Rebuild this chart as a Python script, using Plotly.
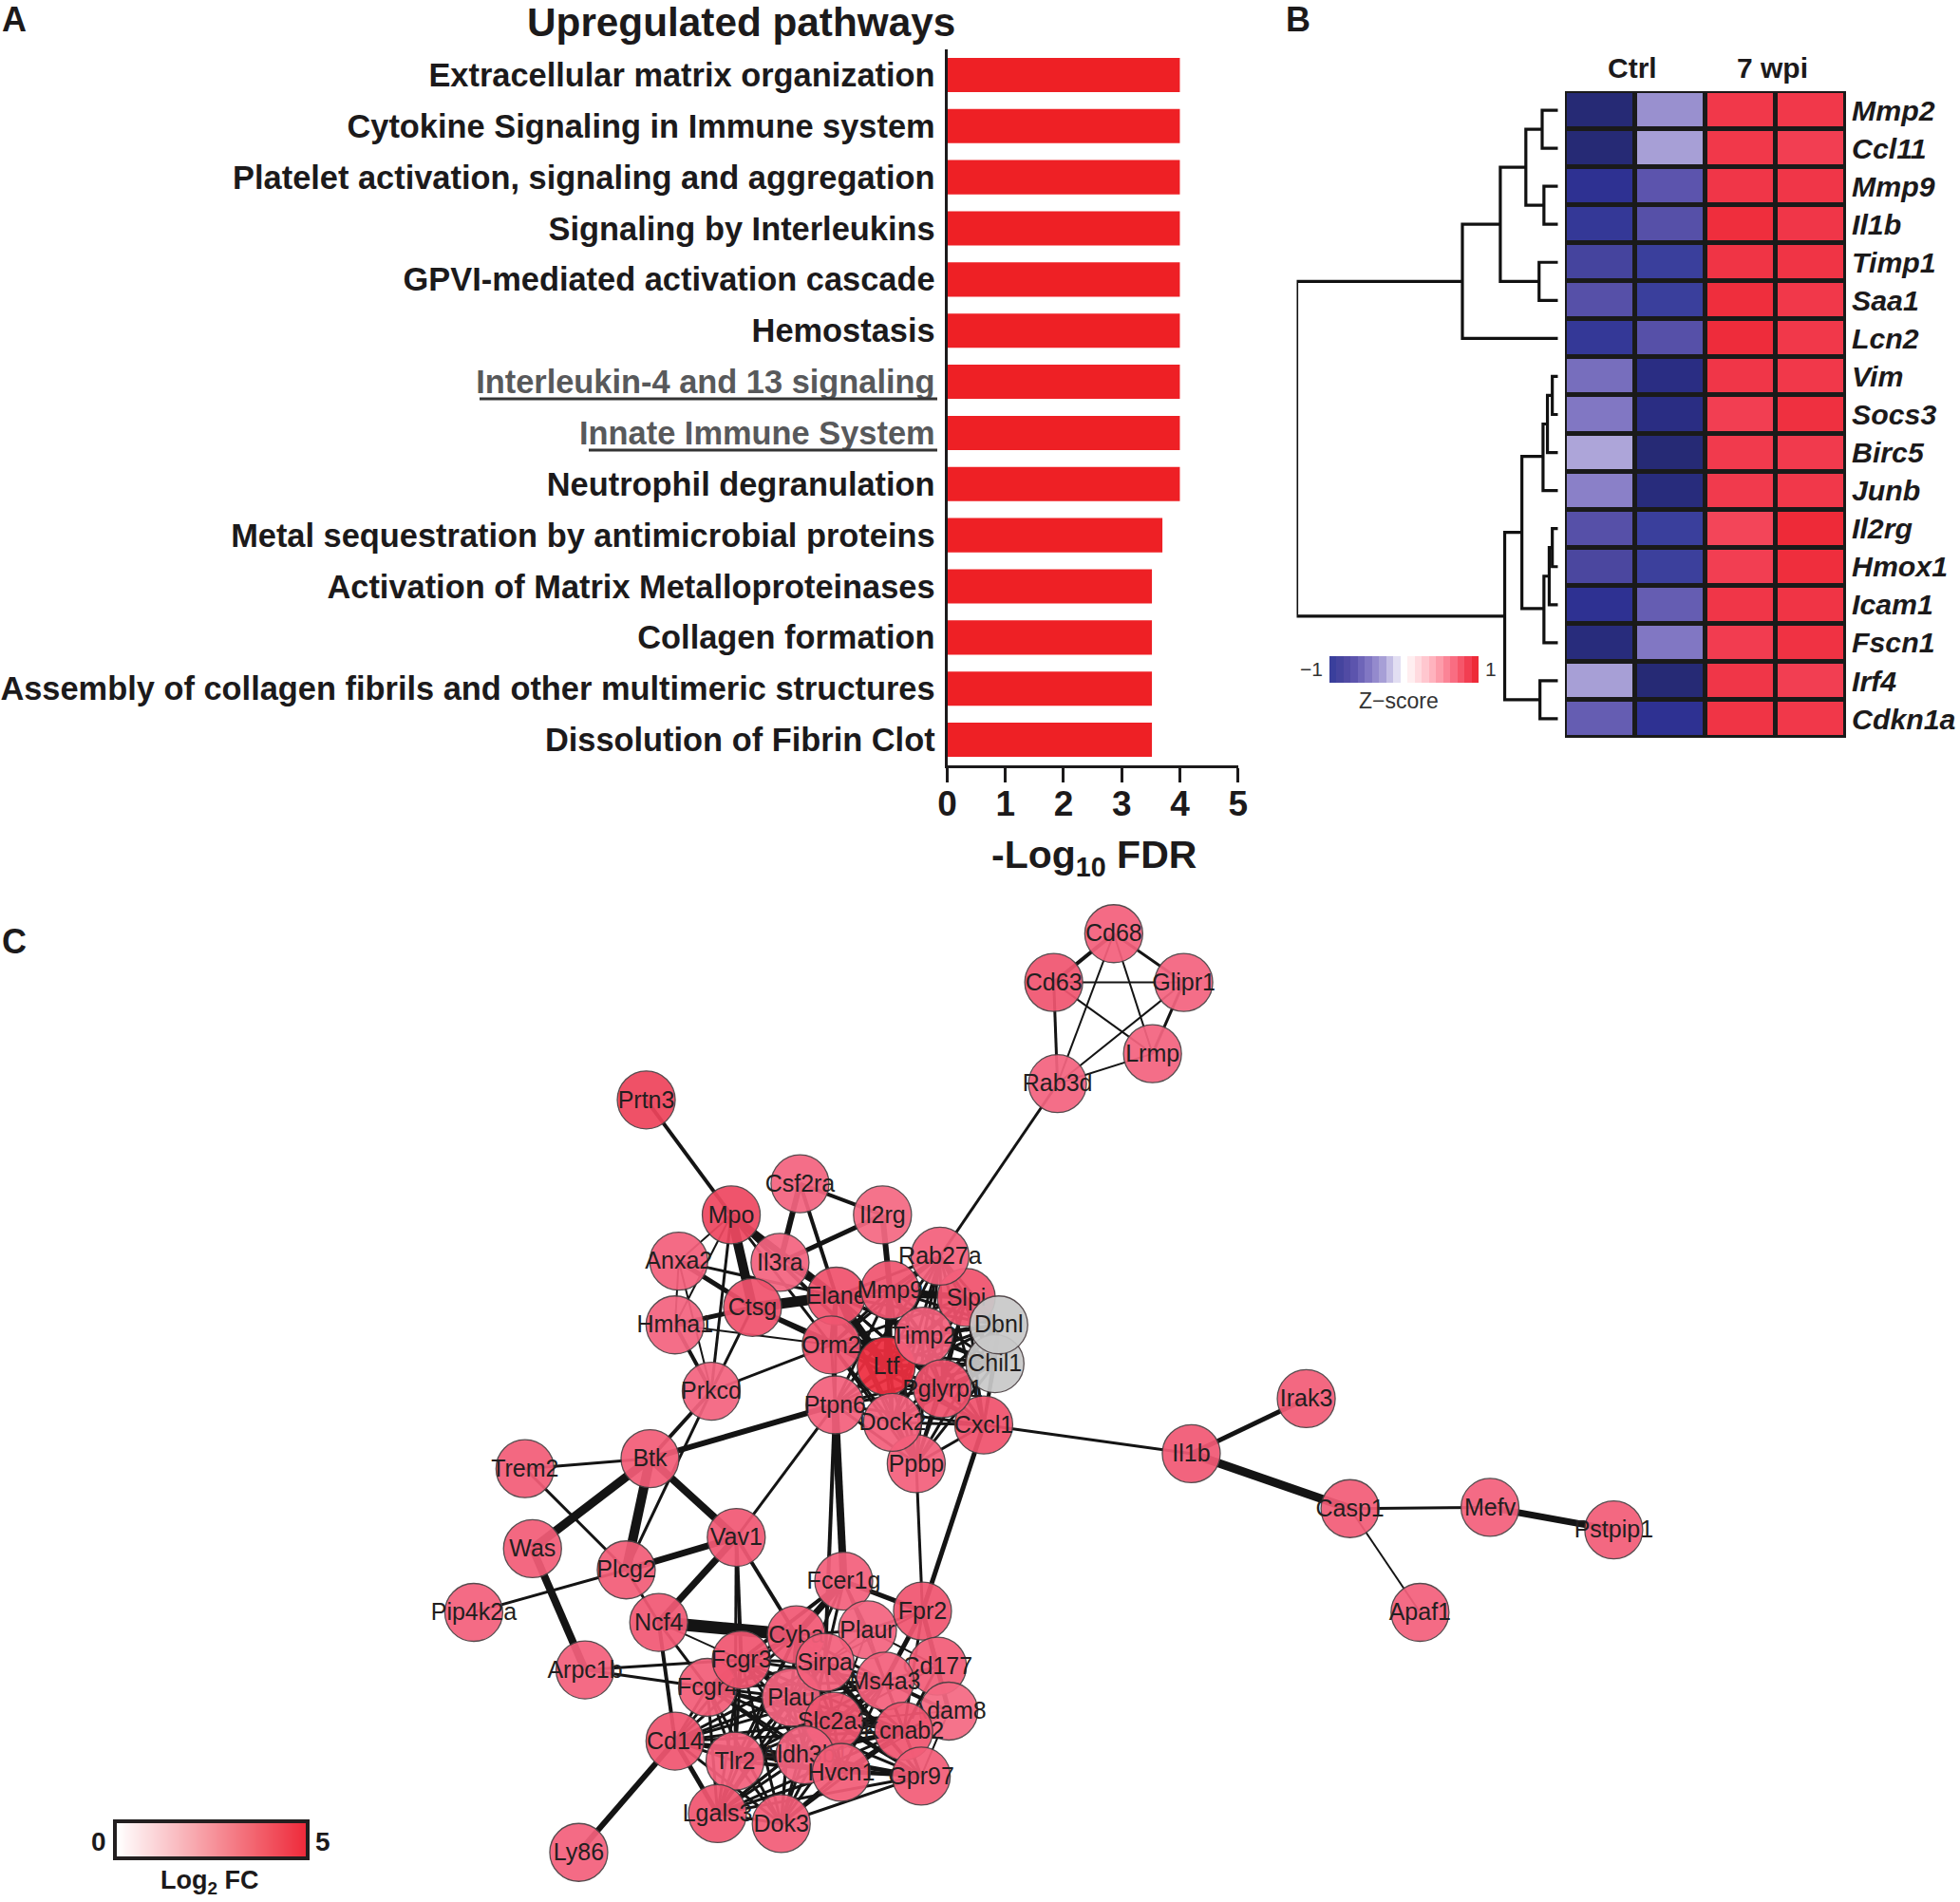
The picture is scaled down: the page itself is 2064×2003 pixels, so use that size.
import itertools
import plotly.graph_objects as go

W, H = 2064, 2003
FONT = "Liberation Sans"
INK = "#1c1a1b"

# ---------- Panel A ----------
pathways = ["Extracellular matrix organization", "Cytokine Signaling in Immune system",
            "Platelet activation, signaling and aggregation", "Signaling by Interleukins",
            "GPVI-mediated activation cascade", "Hemostasis", "Interleukin-4 and 13 signaling",
            "Innate Immune System", "Neutrophil degranulation",
            "Metal sequestration by antimicrobial proteins",
            "Activation of Matrix Metalloproteinases", "Collagen formation",
            "Assembly of collagen fibrils and other multimeric structures",
            "Dissolution of Fibrin Clot"]
fdr_values = [4, 4, 4, 4, 4, 4, 4, 4, 4, 3.7, 3.52, 3.52, 3.52, 3.52]
grey_pathways = ["Interleukin-4 and 13 signaling", "Innate Immune System"]
fdr_ticks = [0, 1, 2, 3, 4, 5]

# ---------- Panel B ----------
genes = ["Mmp2", "Ccl11", "Mmp9", "Il1b", "Timp1", "Saa1", "Lcn2", "Vim", "Socs3", "Birc5",
         "Junb", "Il2rg", "Hmox1", "Icam1", "Fscn1", "Irf4", "Cdkn1a"]
ctrl_1 = [-1.3, -1.3, -1.1, -1.05, -0.9, -0.75, -1.05, -0.55, -0.5, -0.28, -0.45, -0.75, -0.85, -1.1, -1.25, -0.3, -0.65]
ctrl_2 = [-0.37, -0.3, -0.7, -0.75, -1.0, -1.0, -0.75, -1.2, -1.2, -1.3, -1.25, -1.0, -0.98, -0.65, -0.5, -1.3, -1.1]
wpi_1 = [0.93, 0.93, 0.94, 0.98, 0.95, 0.98, 0.99, 0.94, 0.9, 0.92, 0.92, 0.87, 0.9, 0.94, 0.91, 0.94, 0.95]
wpi_2 = [0.93, 0.9, 0.94, 0.94, 0.95, 0.93, 0.93, 0.93, 0.97, 0.92, 0.93, 1.0, 0.98, 0.95, 0.96, 0.9, 0.93]
z_colorscale = [[0, "#262a75"], [.087, "#2e3192"], [.13, "#3a3f9c"], [.196, "#4b479f"],
                [.261, "#5c54ad"], [.37, "#8a80c8"], [.435, "#a79fd6"], [.522, "#e2def2"],
                [.565, "#ffffff"], [.609, "#ffeef0"], [.739, "#ffb3be"], [.87, "#f96d82"],
                [.957, "#f23e52"], [1, "#ee2a38"]]
z_legend_levels = [-1, -.9, -.8, -.7, -.6, -.5, -.4, -.3, -.2, -.1, 0, .1, .2, .3, .4, .5, .6, .7, .8, .9, 1]
# dendrogram merges: (row a, height a, row b, height b, merge height)
dendro = [(0, 0, 1, 0, 36), (2, 0, 3, 0, 32), (0.5, 36, 2.5, 32, 73), (4, 0, 5, 0, 43),
          (1.5, 73, 4.5, 43, 131), (3, 131, 6, 0, 217), (7, 0, 8, 0, 13), (7.5, 13, 9, 0, 24),
          (8.25, 24, 10, 0, 34), (11, 0, 12, 0, 13), (11.5, 13, 13, 0, 20), (12.25, 20, 14, 0, 32),
          (9.1, 34, 13.1, 32, 82), (15, 0, 16, 0, 41), (11.1, 82, 15.5, 41, 121),
          (4.5, 217, 13.3, 121, 593)]

# ---------- Panel C ----------
node_names = ["Cd68", "Cd63", "Glipr1", "Lrmp", "Rab3d", "Prtn3", "Csf2ra", "Il2rg", "Mpo", "Anxa2",
              "Il3ra", "Hmha1", "Ctsg", "Prkcd", "Elane", "Slpi", "Mmp9", "Rab27a", "Chil1", "Dbnl",
              "Ltf", "Orm2", "Timp2", "Ppbp", "Cxcl1", "Pglyrp1", "Dock2", "Ptpn6", "Btk", "Trem2",
              "Was", "Pip4k2a", "Plcg2", "Vav1", "Ncf4", "Arpc1b", "Fcer1g", "Plaur", "Cyba", "Fpr2",
              "Cd177", "Fcgr4", "Fcgr3", "Plau", "Sirpa", "Adam8", "Ms4a3", "Kcnab2", "Slc2a3", "Aldh3b1",
              "Gpr97", "Hvcn1", "Cd14", "Tlr2", "Lgals3", "Dok3", "Ly86", "Il1b", "Irak3", "Casp1",
              "Mefv", "Pstpip1", "Apaf1"]
node_x = [891, 843, 947, 922, 846, 517, 640, 706, 585, 543, 624, 540, 602, 569, 669, 773, 712, 752, 796, 799,
          709, 665, 739, 733, 787, 754, 714, 668, 520, 420, 426, 379, 501, 589, 527, 468, 675, 694, 637, 738,
          750, 566, 593, 633, 660, 759, 708, 723, 667, 644, 737, 673, 540, 588, 574, 625, 463, 953, 1045, 1080,
          1192, 1291, 1136]
node_y = [747, 786, 786, 843, 867, 880, 947, 972, 972, 1009, 1010, 1060, 1046, 1113, 1037, 1038, 1032, 1005, 1091, 1060,
          1093, 1076, 1069, 1171, 1140, 1111, 1138, 1124, 1167, 1175, 1239, 1290, 1256, 1230, 1298, 1336, 1265, 1304, 1308, 1289,
          1333, 1350, 1328, 1358, 1330, 1369, 1345, 1385, 1377, 1404, 1421, 1418, 1393, 1409, 1451, 1459, 1482, 1163, 1119, 1207,
          1206, 1224, 1290]
node_fc = [3.6, 3.9, 3.5, 3.5, 3.5, 4.4, 3.5, 3.4, 4.3, 3.6, 3.5, 3.5, 4.0, 3.5, 4.0, 4.0, 3.9, 3.6, None, None,
           4.9, 3.9, 3.6, 3.6, 4.0, 4.0, 3.6, 3.6, 3.7, 3.7, 3.7, 3.6, 3.7, 3.8, 3.8, 3.6, 3.6, 3.5, 3.8, 3.9,
           3.7, 3.7, 3.9, 3.5, 3.6, 3.4, 3.6, 3.9, 3.9, 3.5, 3.7, 3.7, 3.9, 3.6, 3.9, 3.7, 3.6, 3.8, 3.7, 3.7,
           3.6, 3.7, 3.6]

edges = [("Cd68", "Cd63", 4), ("Cd68", "Glipr1", 3), ("Cd68", "Lrmp", 2), ("Cd68", "Rab3d", 2),
         ("Cd63", "Glipr1", 2), ("Cd63", "Lrmp", 2), ("Cd63", "Rab3d", 3), ("Glipr1", "Lrmp", 3),
         ("Glipr1", "Rab3d", 2), ("Lrmp", "Rab3d", 2), ("Rab3d", "Rab27a", 3), ("Prtn3", "Mpo", 4),
         ("Csf2ra", "Il2rg", 4), ("Csf2ra", "Il3ra", 6), ("Csf2ra", "Elane", 4), ("Il2rg", "Il3ra", 5),
         ("Il2rg", "Mmp9", 6), ("Mpo", "Anxa2", 2), ("Mpo", "Ctsg", 10), ("Mpo", "Elane", 7), ("Mpo", "Hmha1", 2),
         ("Mpo", "Prkcd", 3), ("Mpo", "Orm2", 3), ("Mpo", "Ltf", 4), ("Anxa2", "Ctsg", 5), ("Anxa2", "Elane", 3),
         ("Anxa2", "Hmha1", 2), ("Anxa2", "Prkcd", 2), ("Hmha1", "Ctsg", 5), ("Hmha1", "Orm2", 2),
         ("Hmha1", "Prkcd", 4), ("Ctsg", "Prkcd", 3), ("Ctsg", "Elane", 11), ("Ctsg", "Ltf", 5), ("Ctsg", "Orm2", 4),
         ("Prkcd", "Orm2", 3), ("Prkcd", "Btk", 4), ("Il3ra", "Ltf", 2), ("Il3ra", "Elane", 3),
         ("Ptpn6", "Btk", 6), ("Ptpn6", "Vav1", 3), ("Ptpn6", "Fcer1g", 8), ("Ptpn6", "Sirpa", 4),
         ("Ppbp", "Fpr2", 3), ("Cxcl1", "Fpr2", 5), ("Cxcl1", "Il1b", 3), ("Il1b", "Irak3", 5), ("Il1b", "Casp1", 9),
         ("Casp1", "Mefv", 3), ("Mefv", "Pstpip1", 7), ("Casp1", "Apaf1", 2), ("Btk", "Trem2", 3), ("Btk", "Was", 9),
         ("Btk", "Plcg2", 10), ("Btk", "Vav1", 8), ("Prkcd", "Plcg2", 3), ("Trem2", "Plcg2", 3), ("Was", "Arpc1b", 8),
         ("Plcg2", "Vav1", 7), ("Plcg2", "Pip4k2a", 3), ("Plcg2", "Ncf4", 3), ("Vav1", "Ncf4", 7), ("Vav1", "Fcgr3", 4),
         ("Vav1", "Tlr2", 3), ("Vav1", "Cyba", 4), ("Ncf4", "Cyba", 13), ("Ncf4", "Fcgr4", 3), ("Ncf4", "Cd14", 4),
         ("Ncf4", "Fcgr3", 2), ("Arpc1b", "Fcgr3", 3), ("Arpc1b", "Fcgr4", 3), ("Cd14", "Ly86", 6), ("Cd14", "Lgals3", 5),
         ("Fcer1g", "Fpr2", 5), ("Fcer1g", "Cyba", 7), ("Fcer1g", "Plaur", 3), ("Fcer1g", "Sirpa", 3), ("Fcer1g", "Ms4a3", 3),
         ("Fcer1g", "Fcgr3", 4), ("Fcer1g", "Plau", 3), ("Plaur", "Fpr2", 3), ("Plaur", "Cyba", 3), ("Plaur", "Sirpa", 2),
         ("Plaur", "Ms4a3", 2), ("Plaur", "Cd177", 2), ("Plaur", "Slc2a3", 2), ("Fpr2", "Cd177", 4), ("Fpr2", "Ms4a3", 5),
         ("Fpr2", "Adam8", 5), ("Fpr2", "Kcnab2", 3), ("Fpr2", "Sirpa", 2), ("Cd177", "Ms4a3", 3), ("Cd177", "Adam8", 3),
         ("Cd177", "Kcnab2", 3), ("Cd177", "Slc2a3", 2), ("Adam8", "Kcnab2", 3), ("Adam8", "Ms4a3", 4), ("Adam8", "Gpr97", 2),
         ("Adam8", "Hvcn1", 2), ("Adam8", "Slc2a3", 2),
         ("Elane", "Ltf", 8), ("Mmp9", "Ltf", 7), ("Mmp9", "Slpi", 6), ("Mmp9", "Rab27a", 4), ("Elane", "Orm2", 5),
         ("Timp2", "Dbnl", 4), ("Timp2", "Chil1", 4), ("Ltf", "Chil1", 4), ("Pglyrp1", "Chil1", 4), ("Elane", "Mmp9", 5)]
# densely connected groups whose links cross too heavily to read one by one
core_neutrophil = ["Elane", "Mmp9", "Orm2", "Timp2", "Ltf", "Slpi", "Pglyrp1", "Dbnl", "Chil1", "Dock2", "Cxcl1", "Ptpn6", "Rab27a", "Ppbp"]
core_myeloid = ["Cyba", "Fcgr3", "Fcgr4", "Plau", "Sirpa", "Ms4a3", "Slc2a3", "Kcnab2", "Aldh3b1", "Hvcn1", "Tlr2", "Cd14", "Lgals3", "Dok3", "Gpr97"]
dense_width = 3

fc_legend_levels = [0, 1, 2, 3, 4, 5]
fc_colorscale = [[0, "#ffffff"], [1, "#ee2a3a"]]
node_colorscale = [[0, "#ffffff"], [0.72, "#f4607c"], [0.85, "#ee4a64"], [1, "#ee2a3a"]]


def dx(a, b):
    return [a / W, b / W]


def dy(top, bottom):
    return [1 - bottom / H, 1 - top / H]


fig = go.Figure()

# --- A: bars
fig.add_trace(go.Bar(x=fdr_values, y=pathways, orientation="h", width=0.67,
                     marker=dict(color="#ee2025", line=dict(width=0)), xaxis="x", yaxis="y", hoverinfo="skip"))

# --- B: heatmap
z = [list(row) for row in zip(ctrl_1, ctrl_2, wpi_1, wpi_2)]
fig.add_trace(go.Heatmap(z=z, x=[0, 1, 2, 3], y=genes, colorscale=z_colorscale, zmin=-1.3, zmax=1,
                         showscale=False, xgap=5, ygap=5, xaxis="x2", yaxis="y2", hoverinfo="skip"))

# --- B: dendrogram
dxs, dys = [], []
for ya, ha, yb, hb, h in dendro:
    dxs += [ha, h, h, hb, None]
    dys += [ya, ya, yb, yb, None]
fig.add_trace(go.Scatter(x=dxs, y=dys, mode="lines", line=dict(color="#111111", width=3.2, shape="linear"),
                         xaxis="x3", yaxis="y3", hoverinfo="skip"))

# --- B: z legend
fig.add_trace(go.Heatmap(z=[z_legend_levels], colorscale=z_colorscale, zmin=-1.3, zmax=1, showscale=False,
                         xaxis="x5", yaxis="y5", hoverinfo="skip"))

# --- C: fc legend
fig.add_trace(go.Heatmap(z=[fc_legend_levels], x=fc_legend_levels, colorscale=fc_colorscale, zmin=0, zmax=5,
                         zsmooth="best", showscale=False, xaxis="x6", yaxis="y6", hoverinfo="skip"))

# --- C: edges
pos = {n: (x, y) for n, x, y in zip(node_names, node_x, node_y)}
all_edges = list(edges)
for group in (core_neutrophil, core_myeloid):
    have = {frozenset(e[:2]) for e in all_edges}
    for a, b in itertools.combinations(group, 2):
        if frozenset((a, b)) not in have:
            all_edges.append((a, b, dense_width))
for w in sorted({e[2] for e in all_edges}):
    xs, ys = [], []
    for a, b, ew in all_edges:
        if ew == w:
            xs += [pos[a][0], pos[b][0], None]
            ys += [pos[a][1], pos[b][1], None]
    fig.add_trace(go.Scatter(x=xs, y=ys, mode="lines", line=dict(color="#141414", width=w),
                             xaxis="x4", yaxis="y4", hoverinfo="skip"))

# --- C: nodes, one pair of traces each so that later nodes cover earlier labels
LABEL_DROP = 1.5
for n, x, y, fc in zip(node_names, node_x, node_y, node_fc):
    color = "#c9c9c9" if fc is None else [fc]
    marker = dict(size=61, color=color, opacity=0.93, line=dict(color="#4a3f42", width=1.3))
    if fc is not None:
        marker.update(colorscale=node_colorscale, cmin=0, cmax=5)
    fig.add_trace(go.Scatter(x=[x], y=[y], mode="markers", marker=marker, xaxis="x4", yaxis="y4", hoverinfo="skip"))
    fig.add_trace(go.Scatter(x=[x], y=[y + LABEL_DROP], mode="text", text=[n], textposition="middle center",
                             textfont=dict(family=FONT, size=25, color="#231f20"),
                             xaxis="x4", yaxis="y4", hoverinfo="skip"))

hidden = dict(visible=False, fixedrange=True, automargin=False)
fig.update_layout(
    template="none",
    width=W, height=H, autosize=False, showlegend=False, margin=dict(l=0, r=0, t=0, b=0, pad=0, autoexpand=False),
    paper_bgcolor="white", plot_bgcolor="rgba(0,0,0,0)", bargap=0.33,
    font=dict(family=FONT, color=INK),
    xaxis=dict(domain=dx(997.5, 1303.7), range=[0, 5], tickvals=fdr_ticks, ticks="outside", ticklen=15, tickwidth=3,
               tickcolor=INK, showline=True, linecolor=INK, linewidth=3, showgrid=False, zeroline=False, automargin=False,
               anchor="y", ticklabelstandoff=-9, tickfont=dict(family=FONT, size=37, weight=700, color=INK)),
    yaxis=dict(domain=dy(52, 806), type="category", categoryorder="array", categoryarray=pathways,
               range=[13.5, -0.5], tickmode="array", tickvals=pathways,
               ticktext=[f'<span style="color:#58595b">{p}</span>' if p in grey_pathways else p for p in pathways],
               ticks="outside", ticklen=3, tickcolor="rgba(0,0,0,0)", showline=True, linecolor=INK, linewidth=3,
               showgrid=False, zeroline=False, anchor="x", automargin=False,
               tickfont=dict(family=FONT, size=34.4, weight=700, color=INK)),
    xaxis2=dict(domain=dx(1648, 1944), range=[-0.5, 3.5], **hidden, anchor="y2"),
    yaxis2=dict(domain=dy(96, 777), type="category", categoryorder="array", categoryarray=genes, range=[16.5, -0.5],
                side="right", tickmode="array", tickvals=genes, ticktext=[f"<i>{g}</i>" for g in genes],
                ticks="", ticklabelstandoff=5, showgrid=False, zeroline=False, showline=False, automargin=False,
                anchor="x2", tickfont=dict(family=FONT, size=30.3, weight=700, color=INK)),
    xaxis3=dict(domain=dx(1365.5, 1640.7), range=[593, 0], **hidden, anchor="y3"),
    yaxis3=dict(domain=dy(96, 777), range=[16.5, -0.5], **hidden, anchor="x3"),
    xaxis4=dict(domain=[0, 1], range=[0, 1568], **hidden, anchor="y4"),
    yaxis4=dict(domain=[0, 1], range=[1521.7, 0], **hidden, anchor="x4"),
    xaxis5=dict(domain=dx(1400, 1557), **hidden, anchor="y5"),
    yaxis5=dict(domain=dy(691, 719), **hidden, anchor="x5"),
    xaxis6=dict(domain=dx(123, 322), range=[0, 5], showline=True, mirror=True, linecolor="#231f20", linewidth=4,
                showticklabels=False, ticks="", showgrid=False, zeroline=False, fixedrange=True, anchor="y6", automargin=False),
    yaxis6=dict(domain=dy(1920, 1955), range=[-0.5, 0.5], showline=True, mirror=True, linecolor="#231f20", linewidth=4,
                showticklabels=False, ticks="", showgrid=False, zeroline=False, fixedrange=True, anchor="x6", automargin=False),
)

# dark backing behind the heatmap cells and underlines of the two highlighted pathways
fig.add_shape(type="rect", xref="x2", yref="y2", x0=-0.5, x1=3.5, y0=-0.5, y1=16.5, layer="below",
              fillcolor="#1a1a1a", line=dict(color="#1a1a1a", width=5))
for a, b, y in [(505, 987, 420), (620, 987, 474)]:
    fig.add_shape(type="line", xref="paper", yref="paper", x0=a / W, x1=b / W, y0=1 - y / H, y1=1 - y / H,
                  line=dict(color="#333333", width=3))


def note(text, x, y, size, bold=True, color=INK, xanchor="center"):
    fig.add_annotation(text=text, x=x / W, y=1 - y / H, xref="paper", yref="paper", showarrow=False,
                       xanchor=xanchor, yanchor="middle",
                       font=dict(family=FONT, size=size, color=color, weight=700 if bold else 400))


note("A", 15, 21, 36)
note("B", 1367, 21, 36)
note("C", 15, 992, 36)
note("Upregulated pathways", 780, 23.5, 42.3)
note("-Log<sub>10</sub> FDR", 1152, 903, 41)
note("Ctrl", 1719, 71, 30)
note("7 wpi", 1866, 71, 30)
note("−1", 1381, 704, 21, bold=False, color="#333333")
note("1", 1570, 704, 21, bold=False, color="#333333")
note("Z−score", 1473, 738, 23, bold=False, color="#333333")
note("0", 104, 1939, 28)
note("5", 340, 1939, 28)
note("Log<sub>2</sub> FC", 221, 1982, 27)

fig.write_html("out.html", config=dict(displayModeBar=False), post_script="document.body.style.margin='0';")
